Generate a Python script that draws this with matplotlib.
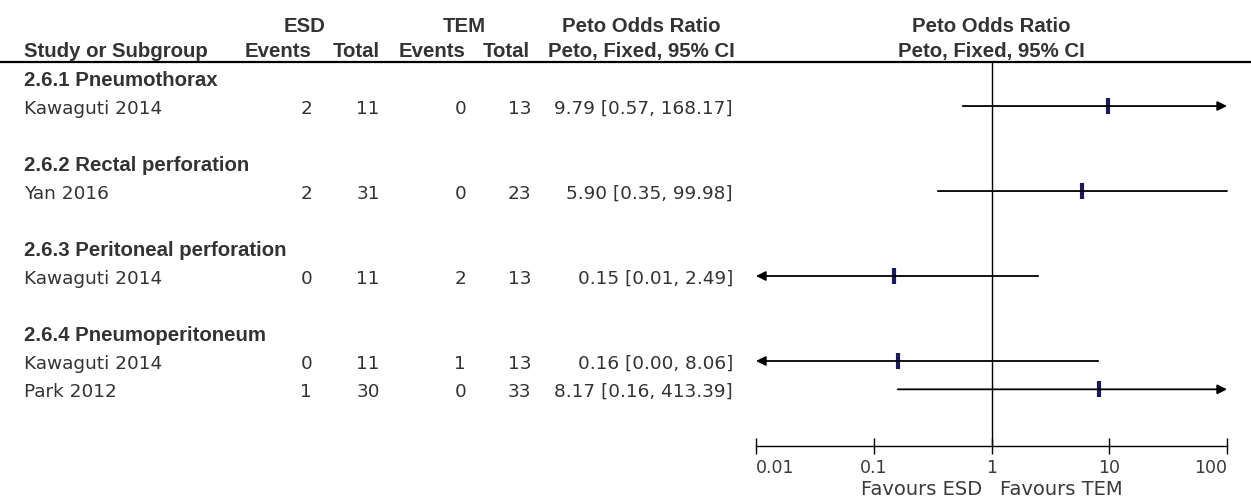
import numpy as np
import matplotlib.pyplot as plt

# data
groups = ["2.6.1 Pneumothorax", "2.6.2 Rectal perforation",
          "2.6.3 Peritoneal perforation", "2.6.4 Pneumoperitoneum"]
study_group = [0, 1, 2, 3, 3]
studies = ["Kawaguti 2014", "Yan 2016", "Kawaguti 2014", "Kawaguti 2014", "Park 2012"]
esd_events = [2, 2, 0, 0, 1]
esd_total = [11, 31, 11, 11, 30]
tem_events = [0, 0, 2, 1, 0]
tem_total = [13, 23, 13, 13, 33]
peto_or = [9.79, 5.90, 0.15, 0.16, 8.17]
ci_low = [0.57, 0.35, 0.01, 0.00, 0.16]
ci_high = [168.17, 99.98, 2.49, 8.06, 413.39]
tick_vals = [0.01, 0.1, 1, 10, 100]
tick_labels = ["0.01", "0.1", "1", "10", "100"]

W, H = 1251, 502
y0, dy = 78.7, 28.33   # pixel y of row 0 and row spacing
txt = "#333333"
reg = dict(family="DejaVu Sans", fontsize=13.3, color=txt)
bold = dict(family=["Liberation Sans", "DejaVu Sans"], fontsize=14.7,
            color=txt, fontweight="bold")

# row index for every group header and study
rows = []
r = 0
for g, name in enumerate(groups):
    rows.append(("group", name, r))
    r += 1
    for i, sg in enumerate(study_group):
        if sg == g:
            rows.append(("study", i, r))
            r += 1
    r += 1

fig = plt.figure(figsize=(W / 100, H / 100), dpi=100)
ax = fig.add_axes([0, 0, 1, 1])
ax.set_xlim(0, W)
ax.set_ylim(H, 0)
ax.axis("off")

def row_y(r):
    return y0 + r * dy

# header
ax.text(305, 32, "ESD", ha="center", **bold)
ax.text(464, 32, "TEM", ha="center", **bold)
ax.text(641, 32, "Peto Odds Ratio", ha="center", **bold)
ax.text(991, 32, "Peto Odds Ratio", ha="center", **bold)
ax.text(24, 57, "Study or Subgroup", ha="left", **bold)
ax.text(312, 57, "Events", ha="right", **bold)
ax.text(380, 57, "Total", ha="right", **bold)
ax.text(466, 57, "Events", ha="right", **bold)
ax.text(530, 57, "Total", ha="right", **bold)
ax.text(735, 57, "Peto, Fixed, 95% CI", ha="right", **bold)
ax.text(991, 57, "Peto, Fixed, 95% CI", ha="center", **bold)
ax.plot([0, W], [63, 63], color="black", lw=1.6)

for kind, val, r in rows:
    if kind == "group":
        ax.text(24, row_y(r) + 7.3, val, ha="left", **bold)
        continue
    i = val
    yb = row_y(r) + 6.7
    ax.text(24, yb, studies[i], ha="left", **reg)
    ax.text(312, yb, str(esd_events[i]), ha="right", **reg)
    ax.text(380, yb, str(esd_total[i]), ha="right", **reg)
    ax.text(466, yb, str(tem_events[i]), ha="right", **reg)
    ax.text(531, yb, str(tem_total[i]), ha="right", **reg)
    ax.text(733, yb, f"{peto_or[i]:.2f} [{ci_low[i]:.2f}, {ci_high[i]:.2f}]",
            ha="right", **reg)

# forest panel
fx0, fx1, ftop, fbot = 756, 1227, 63, 447
axf = fig.add_axes([fx0 / W, 1 - fbot / H, (fx1 - fx0) / W, (fbot - ftop) / H])
axf.patch.set_alpha(0)
axf.set_xscale("log")
axf.set_xlim(tick_vals[0], tick_vals[-1])
axf.set_ylim((fbot - y0) / dy, (ftop - y0) / dy)
for s in ["top", "left", "right"]:
    axf.spines[s].set_visible(False)
axf.spines["bottom"].set_linewidth(1)
axf.set_yticks([])
axf.set_xticks(tick_vals, tick_labels)
axf.minorticks_off()
axf.tick_params(axis="x", direction="inout", length=12, width=1, pad=2.5,
                labelsize=12.5, labelcolor="#3a3a3a", labelfontfamily="DejaVu Sans")
labs = axf.get_xticklabels()
labs[0].set_ha("left")
labs[-1].set_ha("right")
axf.axvline(1, color="black", lw=1)

lo_lim, hi_lim = tick_vals[0], tick_vals[-1]
for kind, val, r in rows:
    if kind != "study":
        continue
    i = val
    lo = max(ci_low[i], lo_lim)
    hi = min(ci_high[i], hi_lim)
    left_arrow = ci_low[i] <= lo_lim
    right_arrow = ci_high[i] >= hi_lim
    style = {(False, False): "-", (False, True): "-|>",
             (True, False): "<|-", (True, True): "<|-|>"}[(left_arrow, right_arrow)]
    axf.annotate("", xy=(hi, r), xytext=(lo, r), annotation_clip=False,
                 arrowprops=dict(arrowstyle=style, color="black", lw=1.3,
                                 shrinkA=0, shrinkB=0, mutation_scale=14))
    axf.plot(peto_or[i], r, marker="|", ms=11, mew=3, color="#1b1b5a", clip_on=False)

xax = axf.get_xaxis_transform()
axf.annotate("Favours ESD", xy=(1, 0), xycoords=xax, xytext=(-9, -43),
             textcoords="offset pixels", ha="right", va="center",
             family="DejaVu Sans", fontsize=14, color="#3a3a3a")
axf.annotate("Favours TEM", xy=(1, 0), xycoords=xax, xytext=(9, -43),
             textcoords="offset pixels", ha="left", va="center",
             family="DejaVu Sans", fontsize=14, color="#3a3a3a")

fig.savefig("out.png", dpi=100)
